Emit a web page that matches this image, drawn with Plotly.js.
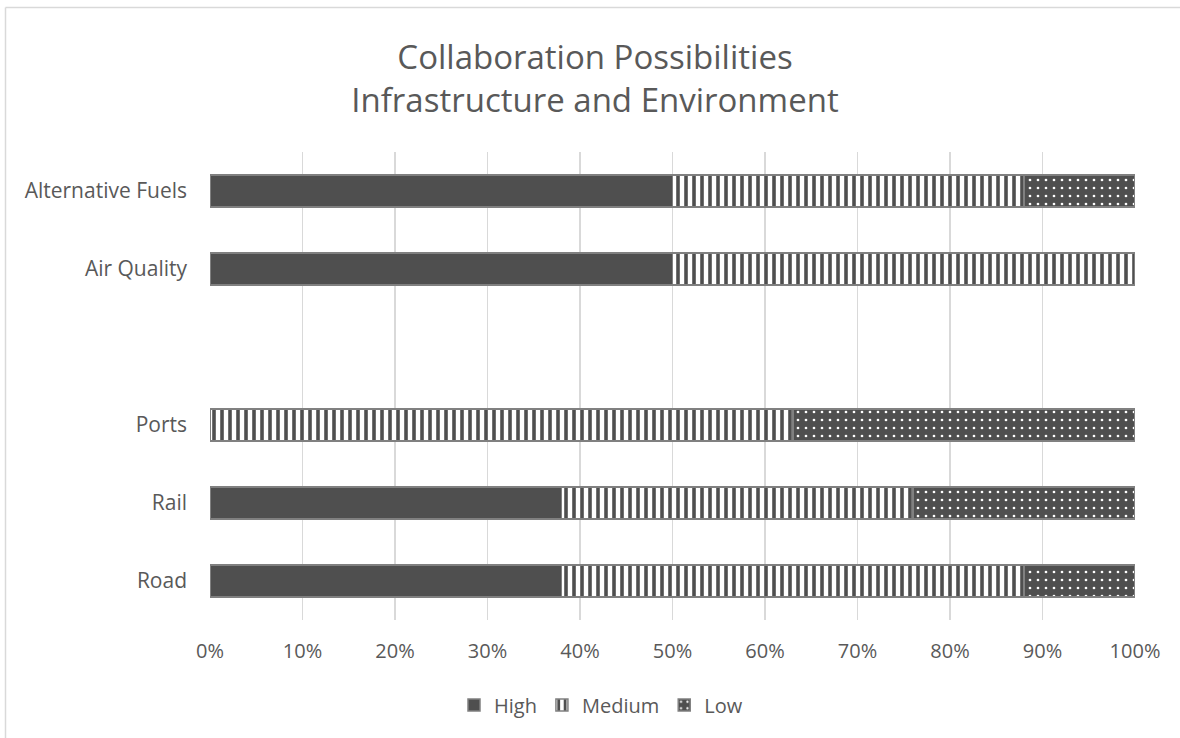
<!DOCTYPE html>
<html>
<head>
<meta charset="utf-8">
<script src="https://cdn.plot.ly/plotly-3.0.1.min.js"></script>
<style>html,body{margin:0;padding:0;background:#fff;}#chart{width:1180px;height:738px;}</style>
</head>
<body>
<div id="chart"></div>
<script>
// Categories bottom-to-top (blank slot between Ports and Air Quality)
const categories = ["Road", "Rail", "Ports", " ", "Air Quality", "Alternative Fuels"];
const highValues   = [0.38, 0.38, 0.00, null, 0.50, 0.50];
const mediumValues = [0.50, 0.38, 0.63, null, 0.50, 0.38];
const lowValues    = [0.12, 0.24, 0.37, null, 0.00, 0.12];
const seriesNames  = ["High", "Medium", "Low"];
const tickValues   = [0, 0.1, 0.2, 0.3, 0.4, 0.5, 0.6, 0.7, 0.8, 0.9, 1.0];

const dark = "#4f4f4f";
const edge = { color: "#808080", width: 1.5 };
const font = "Open Sans, sans-serif";
const textColor = "#595959";

const traces = [
  {
    type: "bar", orientation: "h", name: seriesNames[0],
    y: categories, x: highValues,
    marker: { color: dark, line: edge }
  },
  {
    type: "bar", orientation: "h", name: seriesNames[1],
    y: categories, x: mediumValues,
    marker: { color: "#ffffff", line: edge,
      pattern: { shape: "|", fgcolor: dark, bgcolor: "#ffffff", size: 8, solidity: 0.45 } }
  },
  {
    type: "bar", orientation: "h", name: seriesNames[2],
    y: categories, x: lowValues,
    marker: { color: dark, line: edge,
      pattern: { shape: ".", fgcolor: "#ffffff", bgcolor: dark, size: 8, solidity: 0.09 } }
  }
];

// plot area in pixels: x 210..1135, y 152..620
const L = 210, R = 1135, T = 152, B = 620, W = 1180, H = 738;
const px = v => (v - L) / (R - L);
const py = v => (B - v) / (B - T);

const layout = {
  width: W, height: H,
  margin: { l: L, r: W - R, t: T, b: H - B, pad: 0 },
  paper_bgcolor: "#ffffff", plot_bgcolor: "#ffffff",
  barmode: "stack", bargap: 0.59,
  font: { family: font, color: textColor, size: 21 },
  title: {
    text: "Collaboration Possibilities<br>Infrastructure and Environment",
    font: { family: font, size: 33, color: textColor },
    x: 595 / W, xref: "container", xanchor: "center",
    y: 1 - 69 / H, yref: "container", yanchor: "middle"
  },
  xaxis: {
    range: [0, 1], tickvals: tickValues, tickformat: ".0%",
    showgrid: true, gridcolor: "#d9d9d9", gridwidth: 1.5,
    zeroline: false, showline: false, ticks: "",
    ticklabelstandoff: 17,
    tickfont: { family: font, size: 20, color: textColor },
    fixedrange: true
  },
  yaxis: {
    type: "category", categoryorder: "array", categoryarray: categories,
    showgrid: false, zeroline: false, showline: false, ticks: "",
    ticklabelstandoff: 22,
    tickfont: { family: font, size: 21, color: textColor },
    fixedrange: true
  },
  legend: {
    orientation: "h", x: px(601), xanchor: "center", y: py(705), yanchor: "middle",
    font: { family: font, size: 20, color: textColor },
    traceorder: "normal", itemwidth: 30
  },
  shapes: [
    { type: "line", xref: "paper", yref: "paper", x0: px(5.5), x1: px(1180), y0: py(7.5), y1: py(7.5),
      line: { color: "#d9d9d9", width: 1.5 } },
    { type: "line", xref: "paper", yref: "paper", x0: px(5.5), x1: px(5.5), y0: py(7.5), y1: py(738),
      line: { color: "#d9d9d9", width: 1.5 } }
  ],
  hovermode: false,
  showlegend: true
};

Plotly.newPlot("chart", traces, layout, { displayModeBar: false, staticPlot: true });
</script>
</body>
</html>
